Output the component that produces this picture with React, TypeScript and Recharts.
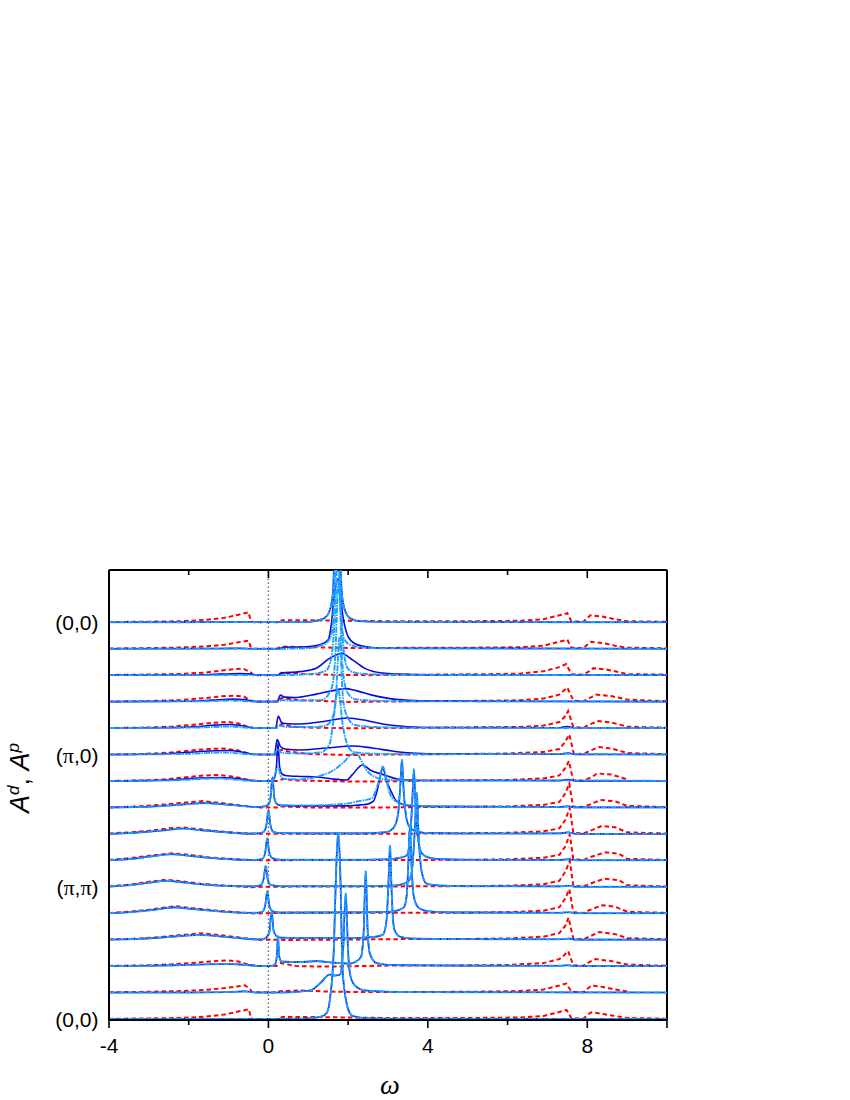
import { LineChart, Line, XAxis, YAxis, ReferenceLine, Label } from "recharts";

type Curve = number[][]; // [omega, intensity] pairs, intensity in arbitrary units

const ROW_STEP = 26.45;
const rowCount = 16;
const yMin = -1;
const yMax = 449;
const bottomTicks = [-4, -2, 0, 2, 4, 6, 8, 10];
const labelledTicks = [-4, 0, 4, 8];
const pathLabels = [
  { row: 0, text: "(0,0)" },
  { row: 5, text: "(π,0)" },
  { row: 10, text: "(π,π)" },
  { row: 15, text: "(0,0)" },
];

// row 0 is the top curve
const redRows: Curve[] = [
  [[-4,.2],[-3,.6],[-2.2,1],[-1.6,2.2],[-1.1,4.5],[-.75,7.5],[-.5,10],[-.44,1],[-.38,0],[.28,0],[.34,2],[1,2],[2,1.5],[3,1],[5,1],[6.3,1.5],[6.9,3],[7.3,7],[7.5,9],[7.6,1],[7.9,.5],[8,4],[8.08,7],[8.4,5.5],[8.7,3],[9,1],[10,.5]],
  [[-4,.2],[-3,.6],[-2.2,1.2],[-1.6,2.2],[-1.1,4],[-.75,6.5],[-.5,8],[-.44,1.5],[-.38,0],[.2,0],[.34,2],[1,1.5],[2,.8],[3,.8],[5,1],[6.3,1.5],[6.9,3],[7.3,7],[7.5,9],[7.6,1],[7.9,.5],[8,4],[8.1,7],[8.4,5.5],[8.7,3],[9,1],[10,.5]],
  [[-4,.2],[-3,.6],[-2.2,1.2],[-1.6,2.5],[-1.1,5],[-.64,6.7],[-.45,3],[-.38,0],[.2,0],[.34,2.5],[1,1],[1.6,.3],[2.5,0],[4,.5],[5.5,1],[6.3,1.5],[6.9,4],[7.3,8],[7.47,11],[7.6,1],[7.9,.3],[8.05,4],[8.15,7],[8.5,5.5],[8.8,3],[9,1],[10,.5]],
  [[-4,0],[-3,.6],[-2.2,1.5],[-1.6,3.5],[-1.2,5.2],[-.84,6],[-.6,4.8],[-.45,1],[-.3,0],[.2,0],[.33,3.5],[.6,2],[1,1],[2,-.3],[4,.5],[5.5,.8],[6.3,1.3],[6.9,3],[7.3,7],[7.5,14],[7.65,1],[7.9,.3],[8.05,3.5],[8.23,7],[8.6,5.5],[9,2],[10,.3]],
  [[-4,0],[-3,.5],[-2.4,1.5],[-1.8,3.5],[-1.4,5.3],[-1,6],[-.75,4.5],[-.5,1],[-.35,0],[.2,0],[.33,4],[.6,1.5],[1,.5],[2,-.2],[4,.3],[5.5,.8],[6.3,1],[6.9,2.5],[7.3,6],[7.45,12],[7.52,17],[7.65,1],[7.9,.3],[8.05,3.5],[8.28,7],[8.6,5.5],[9,1.5],[10,.3]],
  [[-4,0],[-3.2,.4],[-2.5,1.8],[-2,3.8],[-1.5,5.5],[-1.14,6],[-.8,4.5],[-.5,1],[-.35,0],[.2,0],[.33,5],[.5,3],[1,.5],[2,-.5],[3,0],[4.5,.3],[6,1],[6.9,2.5],[7.3,5.5],[7.45,13],[7.55,20],[7.66,1],[7.9,.3],[8.05,3.5],[8.3,7.5],[8.6,6],[9,1.5],[10,.3]],
  [[-4,0],[-3.2,.5],[-2.6,1.5],[-2,4],[-1.6,5.5],[-1.3,6],[-1,5],[-.7,3],[-.45,.5],[-.3,0],[.25,0],[.35,2],[.7,.5],[2,-.5],[3,-.5],[4,.5],[6,1],[6.9,2.5],[7.3,5.5],[7.45,13],[7.54,20],[7.64,1],[7.9,.3],[8.1,3.5],[8.25,7.5],[8.6,6.5],[9,1.5]],
  [[-4,0],[-3.4,.8],[-2.7,2.5],[-2.2,4.5],[-1.64,6.3],[-1.2,4.5],[-.8,2.5],[-.4,.5],[-.2,0],[.25,0],[.3,1],[1,0],[3,0],[4.5,.5],[6,1],[6.9,2.5],[7.3,5.5],[7.45,14],[7.55,24],[7.64,1],[7.9,.3],[8.1,3.5],[8.33,7.5],[8.7,6],[9,1.5],[10,.3]],
  [[-4,.3],[-3.5,1.5],[-3,3],[-2.5,5.5],[-2.14,6.3],[-1.7,4.5],[-1.1,2],[-.5,.3],[-.2,0],[.2,0],[1,0],[3,0],[5,.7],[6,1],[6.9,2.5],[7.3,5.5],[7.45,14],[7.56,26],[7.65,1],[7.9,.3],[8.1,3.5],[8.37,8],[8.7,6.5],[9,1.5],[10,.3]],
  [[-4,.5],[-3.5,2],[-3,4.5],[-2.43,7],[-2,5.5],[-1.5,3],[-.8,1],[-.3,0],[.2,0],[1,.3],[3,.3],[5,.5],[6,1],[6.9,2.5],[7.3,5.5],[7.45,14],[7.56,26],[7.65,1],[7.9,.3],[8.1,3.5],[8.45,8],[8.8,6.5],[9,1.5],[10,.3]],
  [[-4,.5],[-3.5,2],[-3,5],[-2.56,7],[-2.2,5.5],[-1.7,3],[-1,1],[-.4,-.5],[-.2,0],[.2,0],[1,.3],[3,.3],[5,.7],[6,1],[6.9,2.5],[7.3,6],[7.45,15],[7.56,26],[7.65,1],[7.9,.3],[8.1,3.5],[8.42,8],[8.8,6.5],[9,1.5],[10,.3]],
  [[-4,.3],[-3.5,1.5],[-3,3.5],[-2.35,7],[-1.9,5],[-1.4,3],[-.8,1],[-.3,-.5],[-.1,0],[.2,.3],[1,.5],[3,.5],[5,.5],[6,1],[6.9,2.5],[7.3,6],[7.45,15],[7.55,24],[7.65,1],[7.9,.3],[8.05,3],[8.38,8],[8.7,6.5],[9,1.5],[10,.3]],
  [[-4,.2],[-3.3,1],[-2.7,2.5],[-2.1,5],[-1.67,6.3],[-1.2,4.5],[-.7,2],[-.2,0],[.2,0],[.5,-.3],[1.5,0],[3,.5],[5,.7],[6,1.2],[6.9,3],[7.3,6.5],[7.45,14],[7.53,22],[7.65,.8],[7.9,.3],[8.05,3],[8.3,7.7],[8.7,5.5],[9,1.5],[10,.3]],
  [[-4,.2],[-3,.8],[-2.3,2],[-1.7,3.8],[-1.3,5.2],[-1,5.7],[-.75,4.5],[-.5,1.5],[-.2,0],[.2,.2],[.3,3],[.7,0],[1.5,-.5],[3,.5],[5,.7],[6,1.2],[6.9,3],[7.3,7],[7.42,11],[7.52,15],[7.65,.8],[7.9,.3],[8.05,4],[8.2,7],[8.6,5],[9,1.5],[10,.3]],
  [[-4,.2],[-3,.8],[-2.2,1.5],[-1.6,2.5],[-1.1,4.5],[-.8,6],[-.59,7.3],[-.48,4],[-.4,.5],[.1,0],[.34,1.5],[.8,2],[1.5,1],[2.2,.5],[4,.5],[5.5,1],[6.3,1.5],[6.9,3],[7.3,7],[7.47,9],[7.6,1],[7.9,.3],[8,3.5],[8.1,7],[8.4,5.5],[8.7,3],[9,1]],
  [[-4,.2],[-3,.6],[-2.2,1],[-1.6,2.2],[-1.1,4.5],[-.75,7.5],[-.49,9.7],[-.44,1],[-.38,0],[.28,0],[.34,2],[1,2],[2,1.5],[3,1],[5,1],[6.3,1.5],[6.9,3],[7.3,7],[7.48,9],[7.6,1],[7.9,.3],[8,4],[8.1,6.7],[8.4,5],[8.7,3],[9,1],[10,.3]],
];

const darkRows: Curve[] = [
  [[-4,0],[1,.3],[1.2,1.5],[1.4,4],[1.54,12],[1.62,30],[1.67,90],[1.72,130],[1.78,90],[1.84,30],[1.92,12],[2.05,4],[2.3,1],[3,.3],[10,0]],
  [[-4,0],[-1.2,.2],[-.7,.5],[-.4,0],[.3,0],[.35,1.5],[.96,2],[1.29,4],[1.5,9],[1.58,25],[1.64,49],[1.75,70],[1.87,32],[2,12],[2.17,5],[2.54,1.5],[3,.5],[10,0]],
  [[-4,0],[-2,.2],[-1.2,1],[-.7,1.5],[-.42,1],[-.3,0],[.25,0],[.33,2],[.79,3.5],[1.2,7],[1.54,17],[1.84,21.7],[2.12,15],[2.46,6],[2.87,2],[3.3,1],[4,.3],[10,0]],
  [[-4,0],[-2,.4],[-1.4,1.5],[-.9,2.5],[-.6,2],[-.42,.5],[-.2,0],[.22,0],[.3,6.5],[.4,4.5],[.65,4],[.8,4.5],[1.2,7.5],[1.62,11],[1.92,13],[2.2,11],[2.6,6.5],[3.05,3],[3.3,2],[4,.5],[10,0]],
  [[-4,0],[-2.4,.4],[-1.8,1.5],[-1.4,2.8],[-1,3.5],[-.7,2.5],[-.42,.5],[-.2,0],[.18,0],[.25,12],[.32,6],[.42,4.5],[.8,4],[1.46,7],[1.97,10],[2.46,7.5],[2.87,4],[3.3,2],[4,.5],[7.3,.3],[7.5,1.5],[7.7,0],[10,0]],
  [[-4,0],[-3,.2],[-2.4,1.2],[-1.8,2.8],[-1.3,3.8],[-1,4],[-.7,2.8],[-.42,.5],[-.2,0],[.15,0],[.22,15],[.3,8],[.42,5.5],[.8,4.5],[1.46,6.5],[2.1,8.5],[2.6,6.5],[3.1,3.5],[3.4,2],[4,.8],[7.3,.3],[7.52,1.5],[7.7,0],[10,0]],
  [[-4,0],[-3,.3],[-2.4,1.2],[-1.8,2.8],[-1.3,3.5],[-.9,3],[-.42,.5],[-.2,0],[.05,0],[.14,2],[.2,14],[.24,38],[.28,14],[.34,7],[.42,5.5],[.8,4.5],[1.2,4],[1.6,2],[1.97,1],[2.1,6],[2.36,16],[2.55,11],[2.87,6.5],[3.3,1.5],[4,.5],[7.3,.3],[7.52,1.5],[7.7,0],[10,0]],
  [[-4,0],[-3,.7],[-2.4,2.2],[-2,3.4],[-1.6,4.5],[-1.2,3.4],[-.7,1.6],[-.3,.3],[-.1,1],[0,3],[.05,9],[.1,30],[.15,9],[.2,4],[.3,2],[1,1.5],[1.5,1.5],[2,1.5],[2.3,2.5],[2.46,3],[2.63,6],[2.73,17],[2.8,30],[2.87,40],[2.95,28],[3.09,15],[3.2,7],[3.47,2],[4,1],[5,.8],[7.3,.5],[7.52,1],[7.7,0],[10,0]],
  [[-4,0],[-3.5,.8],[-3,2.2],[-2.5,4],[-2.14,5.3],[-1.7,3.7],[-1.1,1.7],[-.5,.2],[-.25,.5],[-.12,2],[-.05,9],[0,24],[.05,9],[.12,2],[.25,.8],[1,.5],[2.4,.5],[2.9,1.5],[3.05,3],[3.17,8],[3.26,22],[3.31,50],[3.35,74],[3.39,45],[3.47,14],[3.56,6],[3.68,3],[3.9,1],[5,.3],[7.3,.5],[7.52,1.5],[7.7,0],[10,0]],
  [[-4,.3],[-3.5,1.2],[-3,3.5],[-2.43,6],[-2,4.6],[-1.5,2.5],[-.8,.7],[-.3,.4],[-.15,1.5],[-.08,8],[-.03,22],[.02,8],[.1,2],[.3,.5],[2,.5],[3,1],[3.3,2.5],[3.47,5],[3.55,20],[3.61,60],[3.65,91],[3.69,55],[3.75,22],[3.85,7],[4,3],[4.3,1.2],[5,.5],[7.3,.4],[7.55,1],[7.7,0],[10,0]],
  [[-4,.3],[-3.5,1.5],[-3,4],[-2.56,6],[-2.2,4.6],[-1.7,2.5],[-1,.7],[-.35,.4],[-.2,1.5],[-.12,8],[-.07,20.7],[-.02,8],[.05,2],[.3,.5],[2,.5],[3,1],[3.3,2],[3.5,5],[3.6,16],[3.67,55],[3.72,94],[3.77,50],[3.84,16],[3.97,3],[4.3,1.2],[5,.5],[7.3,.4],[7.56,1],[7.7,0],[10,0]],
  [[-4,.2],[-3.5,1],[-3,2.8],[-2.35,5.8],[-1.9,4.2],[-1.4,2.4],[-.8,.7],[-.3,.4],[-.15,1.5],[-.08,8],[-.03,22],[.02,8],[.1,2],[.3,.6],[2,.8],[3,1.3],[3.25,3],[3.4,6],[3.47,18],[3.51,50],[3.55,88],[3.59,48],[3.65,16],[3.78,5],[4,2],[4.5,.8],[7.3,.4],[7.55,1],[7.7,0],[10,0]],
  [[-4,.1],[-3.3,.7],[-2.7,2],[-2.1,4],[-1.67,4.7],[-1.2,3.2],[-.7,1.4],[-.25,.1],[-.1,1],[.02,7],[.08,28],[.13,9],[.2,3.5],[.3,2],[1,1.5],[2,1.5],[2.6,2.5],[2.87,5],[2.96,18],[3.01,55],[3.05,94],[3.09,50],[3.13,18],[3.17,9],[3.3,3],[3.6,1.2],[5,.5],[7.3,.4],[7.55,1],[7.7,0],[10,0]],
  [[-4,0],[-3,.4],[-2.2,1],[-1.5,1.8],[-.9,2],[-.5,1],[-.25,0],[.1,.4],[.18,3],[.21,10],[.24,30],[.27,10],[.33,4.5],[.79,4],[1.2,5],[1.62,3.5],[2.04,2.5],[2.17,4],[2.32,9],[2.39,35],[2.44,95],[2.49,35],[2.54,13],[2.71,3],[3.1,1],[5,.5],[7.3,.3],[7.52,.8],[7.7,0],[10,0]],
  [[-4,0],[-2,.1],[-1,.5],[-.6,1.2],[-.42,.5],[-.3,0],[.3,0],[1.04,2],[1.29,9],[1.54,18],[1.67,17],[1.8,18],[1.87,40],[1.94,99],[2,40],[2.05,18],[2.15,8],[2.37,2.5],[2.6,1.5],[3.5,.5],[10,0]],
  [[-4,0],[.8,.2],[1.1,1],[1.33,2.5],[1.46,6],[1.54,19],[1.64,70],[1.7,150],[1.75,186],[1.8,150],[1.86,50],[1.96,16],[2.04,6],[2.12,3],[2.4,1],[3,.3],[10,0]],
];

const lightTop: Curve[] = [
  darkRows[0],
  [[-4,0],[.3,0],[1,.5],[1.3,3],[1.46,6],[1.58,14],[1.66,60],[1.72,130],[1.79,60],[1.88,12],[2,5],[2.3,1.5],[3,.3],[10,0]],
  [[-4,0],[.3,0],[1,1],[1.3,2.5],[1.46,5],[1.58,18],[1.67,60],[1.75,130],[1.83,55],[1.97,8],[2.12,3],[2.5,1],[3.5,.3],[10,0]],
  [[-4,0],[-1.5,.4],[-.9,1],[-.42,.2],[.25,0],[.33,1.5],[.6,1],[1.33,1.5],[1.58,13],[1.67,40],[1.76,120],[1.85,40],[1.97,10],[2.17,2.5],[2.6,1],[3.5,.3],[10,0]],
  [[-4,0],[-1.8,.5],[-1,1.5],[-.42,.2],[.18,0],[.25,2.5],[.5,1],[1.2,1],[1.46,3],[1.62,12],[1.7,35],[1.78,90],[1.87,30],[1.97,12],[2.17,3],[2.7,1],[3.5,.3],[10,0]],
  [[-4,0],[-2.2,.5],[-1.1,2],[-.42,.2],[.15,0],[.22,5],[.35,1.5],[.8,1],[1.3,2],[1.54,11],[1.62,31],[1.75,65],[1.87,28],[2,8],[2.12,3],[2.5,1],[3.5,.3],[7.52,.6],[10,0]],
  [[-4,0],[-2.4,.6],[-1.3,2.5],[-.42,.2],[.1,0],[.24,14],[.32,4],[.42,2],[.8,1.5],[1.2,4],[1.6,10],[1.87,18],[2.07,26],[2.2,28],[2.32,21],[2.46,11],[2.71,3.3],[3.05,1],[4,.3],[7.52,.6],[10,0]],
  [[-4,0],[-3,.7],[-2.4,2.2],[-2,3.3],[-1.6,4.2],[-1.2,3.3],[-.7,1.6],[-.3,.3],[-.1,1],[0,3],[.05,9],[.1,30],[.15,9],[.2,4],[.3,2],[1,2],[1.5,2.5],[2,4],[2.3,6.5],[2.59,9],[2.72,20],[2.8,30],[2.87,41],[2.95,30],[3.02,17],[3.17,7],[3.47,2.5],[4,1],[5,.8],[7.3,.5],[7.52,1],[7.7,0],[10,0]],
];
// from row 8 on the two blue curves coincide
const lightRows: Curve[] = [...lightTop, ...darkRows.slice(8)];

const toPoints = (curve: Curve, row: number) => {
  const base = (rowCount - 1 - row) * ROW_STEP;
  return curve.map(([w, a]) => ({ w, y: base + a }));
};

const BottomTick = ({ x, y, payload }: any) => {
  const major = labelledTicks.includes(payload.value) || payload.value === 10;
  return (
    <g>
      <line x1={x} x2={x} y1={y} y2={y + (major ? 8 : 5)} stroke="#000" strokeWidth={1.6} />
      {labelledTicks.includes(payload.value) && (
        <text x={x} y={y + 33} textAnchor="middle" fontSize={21} fontFamily="Liberation Sans" fill="#000">
          {payload.value}
        </text>
      )}
    </g>
  );
};

const PathTick = ({ x, y, payload }: any) => {
  const label = pathLabels.find((p) => (rowCount - 1 - p.row) * ROW_STEP === payload.value);
  if (!label) return null;
  return (
    <text x={x - 10.5} y={y + 8} textAnchor="end" fontSize={21} fontFamily="Liberation Sans" fill="#000">
      {label.text.split("").map((c, i) => (
        <tspan key={i} fontFamily={c === "π" ? "Liberation Serif" : undefined} fontSize={c === "π" ? 22 : undefined}>{c}</tspan>
      ))}
    </text>
  );
};

export default function App() {
  const rows = Array.from({ length: rowCount }, (_, i) => i);
  return (
    <div style={{ position: "absolute", left: 0, top: 0, background: "#fff" }}>
      <LineChart width={850} height={1100} margin={{ top: 570, right: 183, bottom: 0, left: 0 }}>
        <XAxis
          type="number" dataKey="w" domain={[-4, 10]} ticks={bottomTicks} interval={0}
          height={80} tickLine={false} tickSize={0} tickMargin={0} tick={BottomTick}
          axisLine={{ stroke: "#000", strokeWidth: 2 }} allowDataOverflow
        >
          <Label
            content={() => (
              <text x={390} y={1094} textAnchor="middle" fontSize={28} fontStyle="italic" fontFamily="Liberation Serif">
                ω
              </text>
            )}
          />
        </XAxis>
        <YAxis
          type="number" domain={[yMin, yMax]} width={109} allowDataOverflow interval={0}
          ticks={pathLabels.map((p) => (rowCount - 1 - p.row) * ROW_STEP)}
          tickLine={false} tickSize={0} tickMargin={0} tick={PathTick}
          axisLine={{ stroke: "#000", strokeWidth: 2 }}
        >
          <Label
            content={() => (
              <text
                transform="translate(29,778) rotate(-90)" textAnchor="middle" fontSize={27}
                fontStyle="italic" fontFamily="Liberation Sans" fill="#000"
              >
                A<tspan fontSize={17} dy={-10}>d</tspan><tspan dy={10} fontStyle="normal">, </tspan>A
                <tspan fontSize={17} dy={-10}>p</tspan>
              </text>
            )}
          />
        </YAxis>
        <ReferenceLine x={0} stroke="#666" strokeWidth={1.4} strokeDasharray="1.5 2.5" />
        <ReferenceLine x={10} stroke="#000" strokeWidth={2} />
        <ReferenceLine y={yMax} stroke="#000" strokeWidth={2} />
        {/* inward ticks along the top edge */}
        {bottomTicks.slice(1, -1).map((t) => (
          <ReferenceLine
            key={`top-${t}`} stroke="#000" strokeWidth={1.6}
            segment={[{ x: t, y: yMax }, { x: t, y: yMax - (labelledTicks.includes(t) ? 8 : 5) }]}
          />
        ))}
        {rows.map((r) => (
          <Line
            key={`red-${r}`} data={toPoints(redRows[r], r)} dataKey="y" type="linear" dot={false}
            stroke="#ff0000" strokeWidth={2} strokeDasharray="4.5 3" isAnimationActive={false}
          />
        ))}
        {rows.map((r) => (
          <Line
            key={`dark-${r}`} data={toPoints(darkRows[r], r)} dataKey="y" type="monotone" dot={false}
            stroke="#0808e0" strokeWidth={1.6} isAnimationActive={false}
          />
        ))}
        {rows.map((r) => (
          <Line
            key={`light-${r}`} data={toPoints(lightRows[r], r)} dataKey="y" type="monotone" dot={false}
            stroke="#1ca0ff" strokeWidth={1.9} strokeDasharray="6 1 1.5 1" isAnimationActive={false}
          />
        ))}
      </LineChart>
    </div>
  );
}
